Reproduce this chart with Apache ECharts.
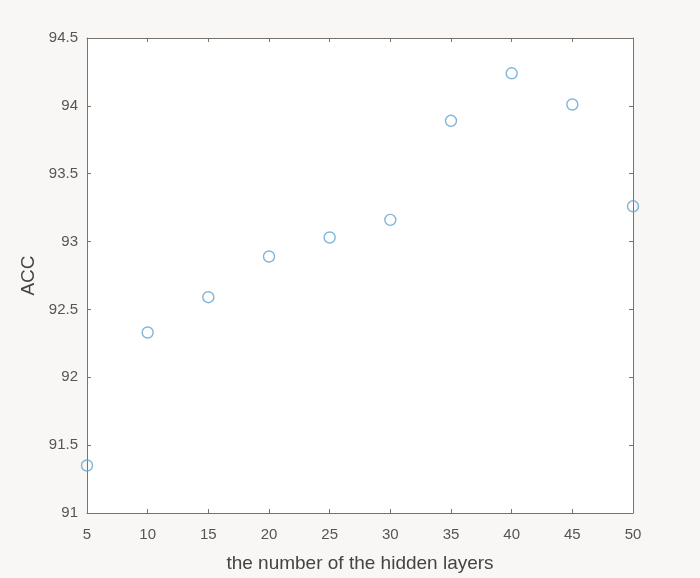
<!DOCTYPE html>
<html><head><meta charset="utf-8">
<script src="https://cdn.jsdelivr.net/npm/echarts@6/dist/echarts.min.js"></script>
<style>html,body{margin:0;padding:0;background:#f8f7f5;}#c{width:700px;height:578px;}</style>
</head><body><div id="c"></div>
<script>
const hiddenLayers = [5, 10, 15, 20, 25, 30, 35, 40, 45, 50];
const accValues = [91.35, 92.33, 92.59, 92.89, 93.03, 93.16, 93.89, 94.24, 94.01, 93.26];
const xTicks = [5, 10, 15, 20, 25, 30, 35, 40, 45, 50];
const yTicks = [91, 91.5, 92, 92.5, 93, 93.5, 94, 94.5];

const axisColor = '#7a726c';
const textColor = '#555';
const font = 'Liberation Sans, Arial, sans-serif';

const chart = echarts.init(document.getElementById('c'), null, {renderer: 'canvas'});
const baseX = {
  type: 'value', min: xTicks[0], max: xTicks[xTicks.length - 1], interval: 5,
  axisLine: {show: true, onZero: false, lineStyle: {color: axisColor, width: 1}},
  axisTick: {show: true, inside: true, length: 4, lineStyle: {color: axisColor}},
  splitLine: {show: false}
};
const baseY = {
  type: 'value', min: yTicks[0], max: yTicks[yTicks.length - 1], interval: 0.5,
  axisLine: {show: true, onZero: false, lineStyle: {color: axisColor, width: 1}},
  axisTick: {show: true, inside: true, length: 4, lineStyle: {color: axisColor}},
  splitLine: {show: false}
};
chart.setOption({
  backgroundColor: '#f8f7f5',
  animation: false,
  grid: {left: 87, right: 67, top: 38, bottom: 63, show: true, backgroundColor: '#ffffff', borderWidth: 0},
  xAxis: [
    Object.assign({}, baseX, {
      position: 'bottom',
      name: 'the number of the hidden layers', nameLocation: 'middle', nameGap: 41,
      nameTextStyle: {color: '#444', fontSize: 19, fontFamily: font},
      axisLabel: {color: textColor, fontSize: 15, fontFamily: font, margin: 14,
        formatter: v => String(v)}
    }),
    Object.assign({}, baseX, {position: 'top', axisLabel: {show: false}})
  ],
  yAxis: [
    Object.assign({}, baseY, {
      position: 'left',
      name: 'ACC', nameLocation: 'middle', nameGap: 42,
      nameTextStyle: {color: '#444', fontSize: 19, fontFamily: font},
      axisLabel: {color: textColor, fontSize: 15, fontFamily: font, margin: 9,
        formatter: v => String(v)}
    }),
    Object.assign({}, baseY, {position: 'right', axisLabel: {show: false}})
  ],
  series: [{
    type: 'scatter',
    xAxisIndex: 0, yAxisIndex: 0,
    data: hiddenLayers.map((x, i) => [x, accValues[i]]),
    symbol: 'circle', symbolSize: 11,
    clip: false,
    itemStyle: {color: 'rgba(0,0,0,0)', borderColor: '#62a2d0', borderWidth: 1.4}
  }]
});
</script>
</body></html>
